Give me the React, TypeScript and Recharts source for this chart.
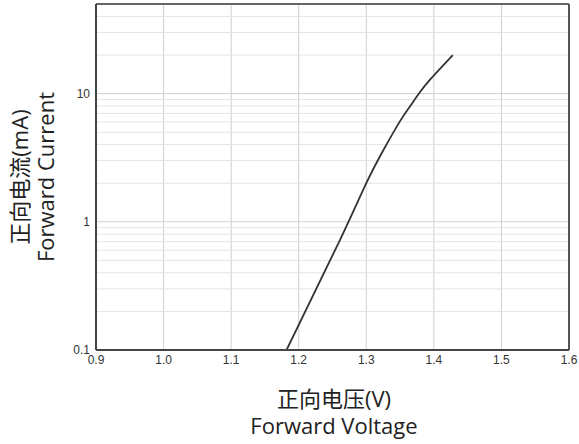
import { CartesianGrid, Line, LineChart, ReferenceLine, XAxis, YAxis } from "recharts"

// forward voltage (V) vs forward current (mA)
const voltage = [1.182, 1.261, 1.3, 1.325, 1.35, 1.365, 1.379, 1.394, 1.409, 1.428]
const current = [0.1, 0.72, 2.0, 3.6, 6.1, 8.0, 10.2, 12.8, 15.6, 20]

const xTicks = [0.9, 1.0, 1.1, 1.2, 1.3, 1.4, 1.5, 1.6]
const yTicks = [0.1, 1, 10]
const yMinor = [0.2, 0.3, 0.4, 0.5, 0.6, 0.7, 0.8, 0.9, 2, 3, 4, 5, 6, 7, 8, 9, 20, 30, 40]

const data = voltage.map((v, i) => ({ v, i: current[i] }))

const labelFont = "'Open Sans', 'Noto Sans CJK SC', sans-serif"
const tickStyle = { fill: "#333", fontSize: 12, fontFamily: "'Liberation Sans', Arial" }

export default function App() {
  return (
    <div style={{ position: "absolute", left: 0, top: 0, width: 579, height: 444 }}>
      <LineChart width={579} height={444} data={data} margin={{ top: 4, right: 10, bottom: 64, left: 66 }}>
        <CartesianGrid horizontal={false} stroke="#cfcfcf" strokeWidth={1} />
        {yMinor.map((m) => (
          <ReferenceLine key={m} y={m} stroke="#e4e4e4" strokeWidth={1} />
        ))}
        {yTicks.map((t) => (
          <ReferenceLine key={"t" + t} y={t} stroke="#cfcfcf" strokeWidth={1} />
        ))}
        <ReferenceLine y={50} stroke="#666" strokeWidth={2} />
        <ReferenceLine x={1.6} stroke="#555" strokeWidth={2} />
        <XAxis
          dataKey="v"
          type="number"
          domain={[0.9, 1.6]}
          ticks={xTicks}
          tickFormatter={(t: number) => t.toFixed(1)}
          tickLine={false}
          axisLine={{ stroke: "#444", strokeWidth: 2 }}
          tick={tickStyle}
          tickSize={3}
          height={30}
          allowDataOverflow
        />
        <YAxis
          dataKey="i"
          scale="log"
          type="number"
          domain={[0.1, 50]}
          ticks={yTicks}
          tickLine={false}
          axisLine={{ stroke: "#444", strokeWidth: 2 }}
          tick={tickStyle}
          tickSize={4}
          width={30}
          allowDataOverflow
        />
        <Line
          dataKey="i"
          type="natural"
          stroke="#333"
          strokeWidth={1.8}
          dot={false}
          isAnimationActive={false}
        />
      </LineChart>
      <div
        style={{
          position: "absolute",
          left: 32,
          top: 177,
          transform: "translate(-50%, -50%) rotate(-90deg)",
          whiteSpace: "nowrap",
          textAlign: "center",
          fontFamily: labelFont,
          fontSize: 22,
          lineHeight: "26px",
          color: "#222",
        }}
      >
        <div>正向电流(mA)</div>
        <div>Forward Current</div>
      </div>
      <div
        style={{
          position: "absolute",
          left: 334,
          top: 385,
          transform: "translateX(-50%)",
          whiteSpace: "nowrap",
          textAlign: "center",
          fontFamily: labelFont,
          fontSize: 22,
          lineHeight: "27px",
          color: "#222",
        }}
      >
        <div>正向电压(V)</div>
        <div>Forward Voltage</div>
      </div>
    </div>
  )
}
